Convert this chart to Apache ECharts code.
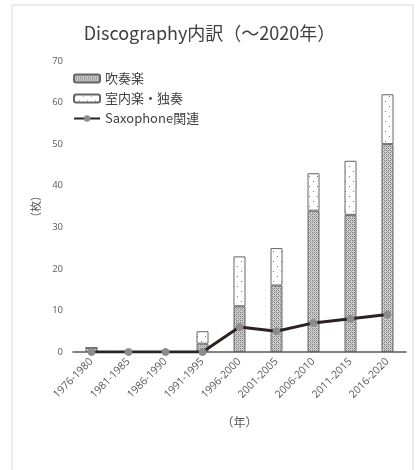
<!DOCTYPE html>
<html><head><meta charset="utf-8">
<script src="https://cdn.jsdelivr.net/npm/echarts@6/dist/echarts.min.js"></script>
<style>html,body{margin:0;padding:0;background:#fff}#c{width:419px;height:470px}</style>
</head><body><div id="c"></div>
<script>
const categories = ['1976-1980','1981-1985','1986-1990','1991-1995','1996-2000','2001-2005','2006-2010','2011-2015','2016-2020'];
const windBand = [1,0,0,2,11,16,34,33,50];
const chamberSolo = [0,0,0,3,12,9,9,13,12];
const saxophone = [0,0,0,0,6,5,7,8,9];
const yTicks = [0,10,20,30,40,50,60,70];

function densePattern(){
  const c=document.createElement('canvas');c.width=4;c.height=4;
  const g=c.getContext('2d');
  g.fillStyle='#d0d0d0';g.fillRect(0,0,4,4);
  g.fillStyle='#808080';
  g.fillRect(0,0,1,1);g.fillRect(2,2,1,1);g.fillRect(2,0,1,1);g.fillRect(0,2,1,1);
  g.fillStyle='#a0a0a0';
  g.fillRect(1,1,1,1);g.fillRect(3,3,1,1);
  return c;
}
function sparsePattern(){
  const c=document.createElement('canvas');c.width=8;c.height=10;
  const g=c.getContext('2d');
  g.fillStyle='#ffffff';g.fillRect(0,0,8,10);
  g.fillStyle='#7a7a7a';
  g.fillRect(1,1,1,1);g.fillRect(5,6,1,1);
  return c;
}
const chart = echarts.init(document.getElementById('c'));
chart.setOption({
  animation:false,
  backgroundColor:'#fff',
  graphic:[{type:'rect',shape:{x:12,y:5,width:401,height:480},style:{fill:'none',stroke:'#d9d9d9',lineWidth:1},silent:true,z:-10}],
  title:{text:'Discography内訳（～2020年）',left:'center',top:19,
    textStyle:{fontFamily:'"Noto Sans CJK JP","Noto Sans",sans-serif',fontSize:18,fontWeight:'normal',color:'#404040'}},
  legend:{orient:'vertical',left:68,top:67,itemGap:7,itemWidth:26,itemHeight:8,
    textStyle:{fontFamily:'"Noto Sans CJK JP",sans-serif',fontSize:13,color:'#404040'},
    data:['吹奏楽','室内楽・独奏','Saxophone関連']},
  grid:{left:73,right:13,top:61,bottom:118},
  xAxis:{type:'category',data:categories,name:'（年）',nameLocation:'middle',nameGap:64,
    nameTextStyle:{fontFamily:'"Noto Sans CJK JP",sans-serif',fontSize:12,color:'#595959'},
    axisLine:{lineStyle:{color:'#595959',width:1.5}},axisTick:{show:false},
    axisLabel:{rotate:45,fontSize:10.5,color:'#595959',margin:8,fontFamily:'"Open Sans",sans-serif'}},
  yAxis:{type:'value',min:0,max:70,interval:10,name:'（枚）',nameLocation:'middle',nameGap:32,nameRotate:90,
    nameTextStyle:{fontFamily:'"Noto Sans CJK JP",sans-serif',fontSize:11,color:'#595959'},
    axisLine:{show:false},axisTick:{show:false},splitLine:{show:false},
    axisLabel:{fontSize:9.5,color:'#595959',margin:10,fontFamily:'"Open Sans",sans-serif',
      formatter:v=>yTicks.includes(v)?String(v):''}},
  series:[
    {name:'吹奏楽',type:'bar',stack:'s',data:windBand,barWidth:12,
      itemStyle:{color:{image:densePattern(),repeat:'repeat'},borderColor:'#666',borderWidth:1}},
    {name:'室内楽・独奏',type:'bar',stack:'s',data:chamberSolo,barWidth:12,
      itemStyle:{color:{image:sparsePattern(),repeat:'repeat'},borderColor:'#666',borderWidth:1}},
    {name:'Saxophone関連',type:'line',data:saxophone,symbol:'circle',symbolSize:7,z:5,
      lineStyle:{color:'#2b2321',width:3},itemStyle:{color:'#8c8c8c',borderColor:'#8c8c8c'}}
  ]
});
</script></body></html>
